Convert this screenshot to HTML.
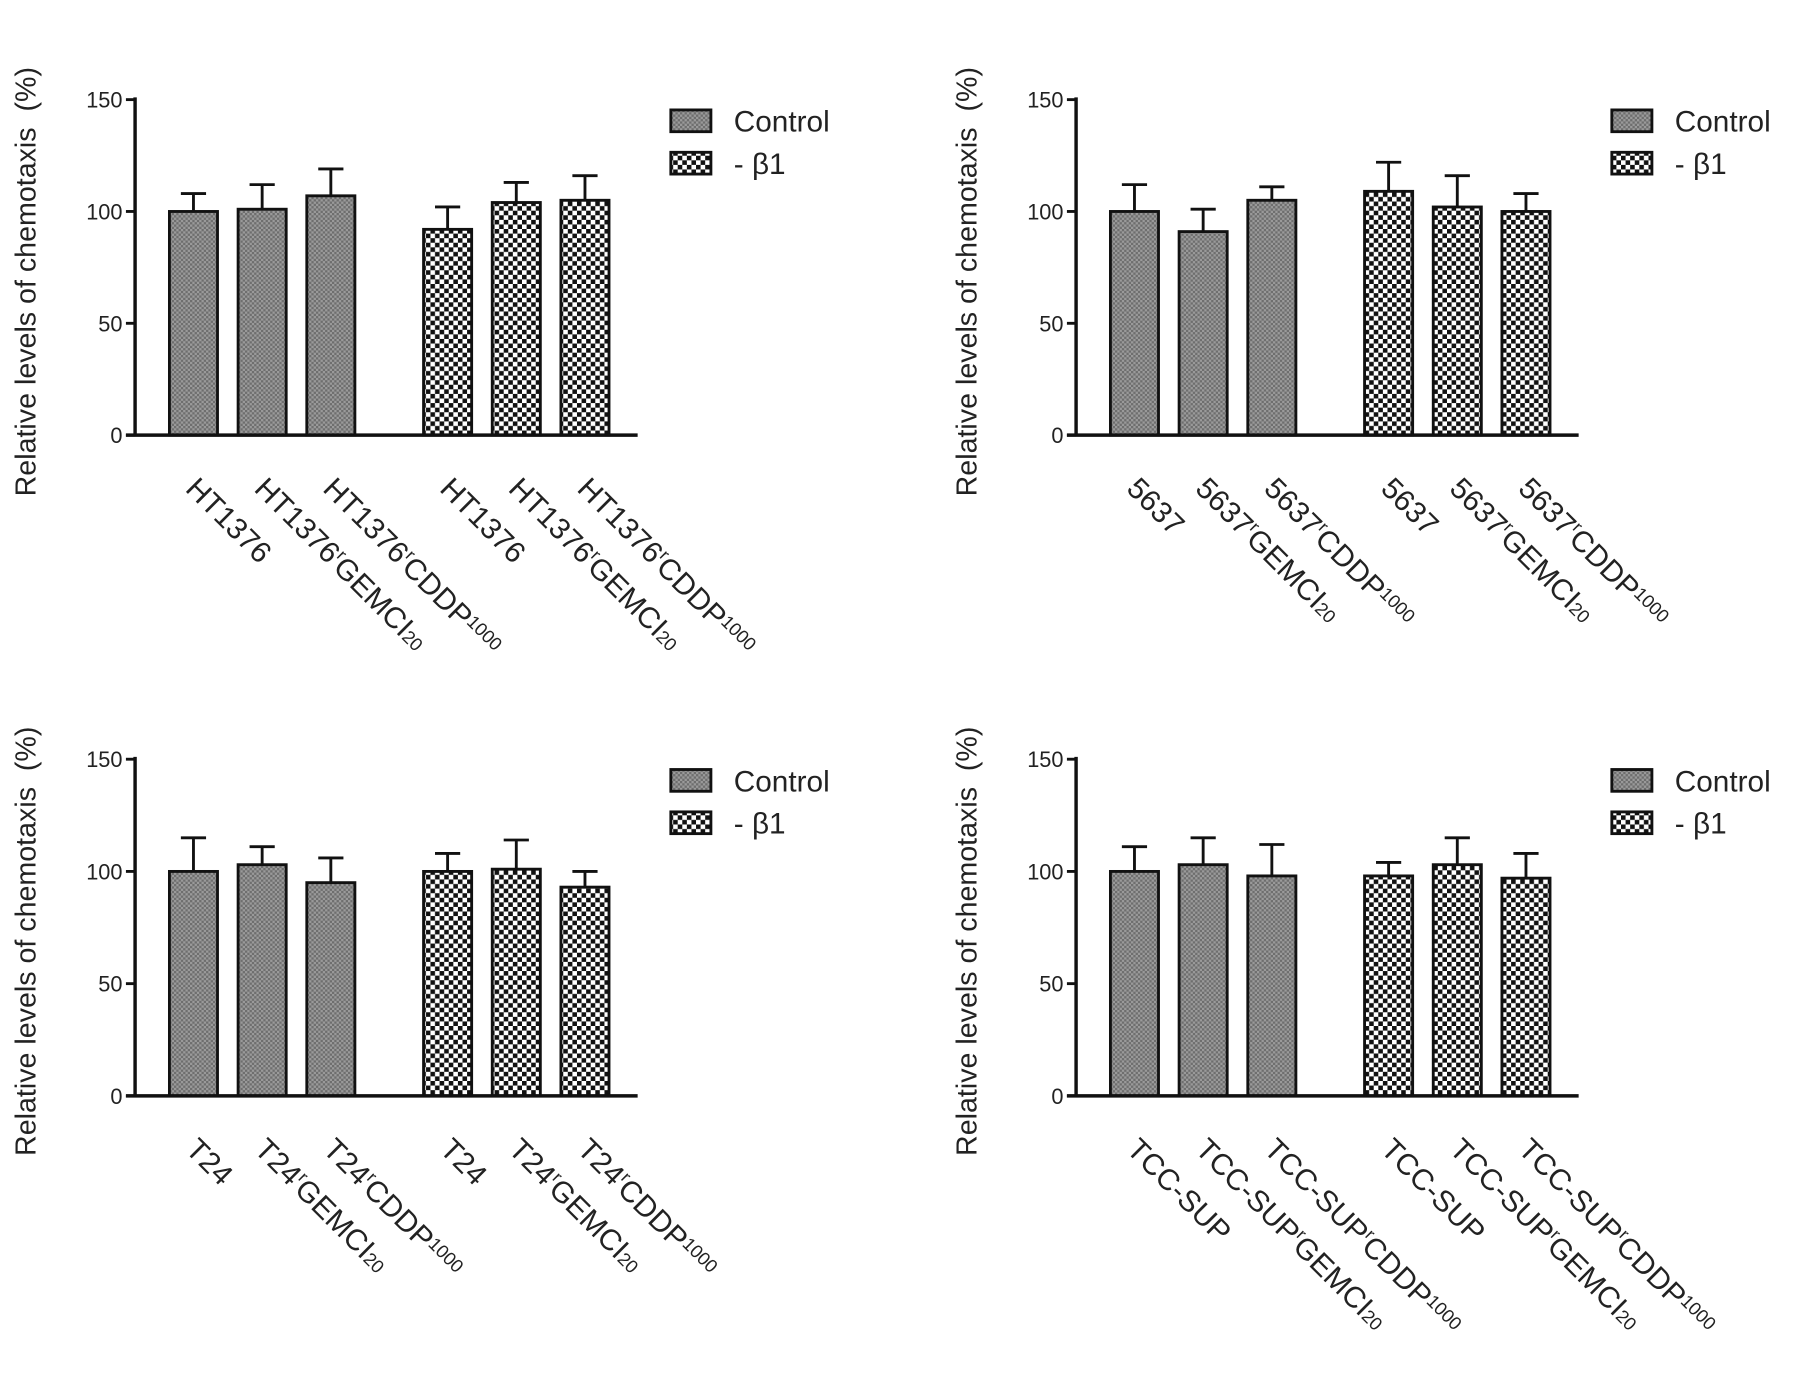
<!DOCTYPE html>
<html><head><meta charset="utf-8"><style>
html,body{margin:0;padding:0;background:#fff;}
svg{display:block;font-family:"Liberation Sans",Arial,sans-serif;}
</style></head><body>
<svg id="fig" width="1795" height="1381" viewBox="0 0 1568 1206" preserveAspectRatio="none" xmlns="http://www.w3.org/2000/svg">
<defs>
<pattern id="pCtrl" width="4" height="4" patternUnits="userSpaceOnUse">
<rect width="4" height="4" fill="#9a9a9a"/><rect width="2" height="2" fill="#6e6e6e"/><rect x="2" y="2" width="2" height="2" fill="#6e6e6e"/>
</pattern>
<pattern id="pB1" width="8" height="8" patternUnits="userSpaceOnUse">
<rect width="8" height="8" fill="#fff"/><rect width="4" height="4" fill="#111"/><rect x="4" y="4" width="4" height="4" fill="#111"/>
</pattern>
</defs>
<g id="panels"></g>
</svg>
<script>
const ticks = [0, 50, 100, 150];
const tlCats = [["HT1376",""],["HT1376","GEMCI"],["HT1376","CDDP"],["HT1376",""],["HT1376","GEMCI"],["HT1376","CDDP"]];
const tlVals = [100, 101, 107, 92, 104, 105];
const tlErr = [108, 112, 119, 102, 113, 116];
const trCats = [["5637",""],["5637","GEMCI"],["5637","CDDP"],["5637",""],["5637","GEMCI"],["5637","CDDP"]];
const trVals = [100, 91, 105, 109, 102, 100];
const trErr = [112, 101, 111, 122, 116, 108];
const blCats = [["T24",""],["T24","GEMCI"],["T24","CDDP"],["T24",""],["T24","GEMCI"],["T24","CDDP"]];
const blVals = [100, 103, 95, 100, 101, 93];
const blErr = [115, 111, 106, 108, 114, 100];
const brCats = [["TCC-SUP",""],["TCC-SUP","GEMCI"],["TCC-SUP","CDDP"],["TCC-SUP",""],["TCC-SUP","GEMCI"],["TCC-SUP","CDDP"]];
const brVals = [100, 103, 98, 98, 103, 97];
const brErr = [111, 115, 112, 104, 115, 108];

const NS = "http://www.w3.org/2000/svg";
const root = document.getElementById("panels");
function mk(tag, attrs, parent) {
  const e = document.createElementNS(NS, tag);
  for (const k in attrs) e.setAttribute(k, attrs[k]);
  parent.appendChild(e);
  return e;
}
function panel(id, ax, y150, y0, cats, vals, errs, titleY) {
  const g = mk("g", {}, root);
  
  
  const yScale = v => y0 - (v / 150) * (y0 - y150);
  const xPos = i => ax + 51 + i * 60 + (i >= 3 ? 42 : 0);
  const t = mk("text", {x: 0, y: 0, "font-size": 25, "text-anchor": "middle", transform: `translate(${ax - 87},${titleY}) rotate(-90)`, fill: "#222"}, g);
  t.textContent = "Relative levels of chemotaxis\u00a0\u00a0(%)";
  
  
  vals.forEach((v, i) => {
    const cx = xPos(i);
    const r = mk("rect", {x: cx - 21, y: yScale(v), width: 42, height: y0 - yScale(v), fill: i < 3 ? "url(#pCtrl)" : "url(#pB1)", stroke: "#111", "stroke-width": 2.5}, g);
    
    
    const ey = yScale(errs[i]);
    const e = mk("path", {d: `M${cx},${yScale(v)}V${ey}M${cx - 11},${ey}H${cx + 11}`, stroke: "#111", "stroke-width": 2.5, fill: "none"}, g);
    
    
    const c = cats[i];
    const lx = cx - 8, ly = y0 + 48;
    const tx = mk("text", {x: 0, y: 0, "font-size": 26, transform: `translate(${lx},${ly}) rotate(45)`, fill: "#222"}, g);
    
    
    const s1 = mk("tspan", {}, tx); s1.textContent = c[0];
    if (c[1]) {
      const s2 = mk("tspan", {"font-size": 15, dy: -10}, tx); s2.textContent = "r";
      const s3 = mk("tspan", {dy: 10}, tx); s3.textContent = c[1];
      const s4 = mk("tspan", {"font-size": 16, dy: c[1] === "GEMCI" ? 0 : -7}, tx);
      s4.textContent = c[1] === "GEMCI" ? "20" : "1000";
    }
  });
  const a = mk("path", {d: `M${ax},${y150 - 2}V${y0}M${ax - 8},${y0}H${ax + 439}`, stroke: "#111", "stroke-width": 3, fill: "none"}, g);
  
  
  ticks.forEach(tk => {
    const y = yScale(tk);
    mk("line", {x1: ax - 8, x2: ax, y1: y, y2: y, stroke: "#111", "stroke-width": 2.5}, g);
    const tl = mk("text", {x: ax - 11, y: y + 7, "font-size": 19, "text-anchor": "end", fill: "#222"}, g);
    tl.textContent = tk;
    
    
  });
  const lg = mk("g", {}, g);
  
  
  const lx0 = ax + 468, ly0 = y150 + 9;
  [["url(#pCtrl)", "Control", 0], ["url(#pB1)", "- β1", 37]].forEach(([f, lab, dy]) => {
    mk("rect", {x: lx0, y: ly0 + dy, width: 35, height: 19, fill: f, stroke: "#111", "stroke-width": 2.5}, lg);
    const lt = mk("text", {x: lx0 + 55, y: ly0 + dy + 19, "font-size": 26, fill: "#222"}, lg);
    lt.textContent = lab;
    
    
  });
}
panel("panel-ht1376", 118, 87, 380, tlCats, tlVals, tlErr, 246);
panel("panel-5637", 940, 87, 380, trCats, trVals, trErr, 246);
panel("panel-t24", 118, 663, 957, blCats, blVals, blErr, 822);
panel("panel-tcc-sup", 940, 663, 957, brCats, brVals, brErr, 822);
</script>
</body></html>
